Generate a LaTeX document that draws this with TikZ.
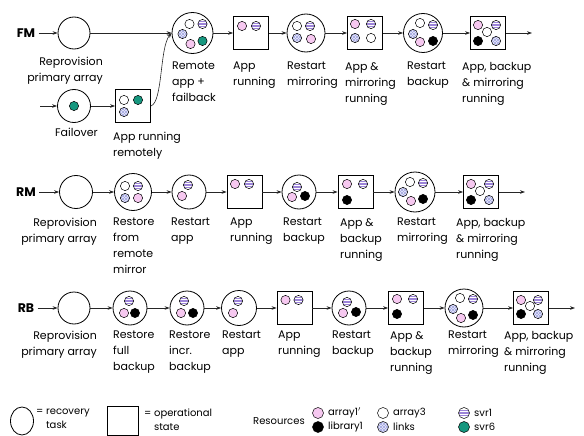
\documentclass[tikz,border=0pt]{standalone}
\usepackage{fontspec}
\setmainfont{Poppins}
\usetikzlibrary{arrows.meta,patterns,shapes.geometric}

\definecolor{arraypink}{HTML}{F6C8F0}
\definecolor{svrpurple}{HTML}{9C84D8}
\definecolor{linkblue}{HTML}{A2A6E2}
\definecolor{linkfill}{HTML}{ECECFA}
\definecolor{svrteal}{HTML}{16977F}

% one resource disc inside a task or state: style, node, offset
\newcommand{\res}[4]{\draw[#1] ([shift={(#3,#4)}]#2.center) circle (4.6);}

\begin{document}
\begin{tikzpicture}[x=1pt,y=-1pt,font=\fontsize{11}{16}\selectfont]

        % Stili
        \tikzset{
          task/.style={draw, circle, line width=0.8pt, inner sep=0pt, minimum size=#1},
          task/.default=34,
          opstate/.style={draw, rectangle, line width=0.8pt, inner sep=0pt,
            minimum width=35, minimum height=33},
          conn/.style={draw=black!85, line width=0.6pt, -{Stealth[length=5pt,width=3.6pt]}},
          txt/.style={inner sep=0pt, anchor=north west, align=left},
          rowname/.style={font=\fontsize{12.5}{14}\selectfont\bfseries},
          pinkdot/.style={draw, line width=0.5pt, fill=arraypink},
          blackdot/.style={draw, line width=0.5pt, fill=black},
          whitedot/.style={draw, line width=0.5pt, fill=white},
          tealdot/.style={draw, line width=0.5pt, fill=svrteal},
          linkdot/.style={draw, line width=0.5pt, preaction={fill=linkfill},
            preaction={pattern=north east lines, pattern color=linkblue},
            pattern=north west lines, pattern color=linkblue},
          svrdot/.style={draw, line width=0.5pt, fill=white, path picture={
            \foreach \k in {-2.6,0,2.6}
              \fill[svrpurple] ([yshift={(\k-0.7)*1pt}]path picture bounding box.west)
                rectangle ([yshift={(\k+0.7)*1pt}]path picture bounding box.east);}}
        }

        \useasboundingbox (0,0) rectangle (584,436);

        % Riga FM
        \node[rowname] (fm) at (26,33) {FM};
        \node[task=32] (fm1) at (74,33) {};
        \node[task=41] (fm2) at (192.5,33) {};
        \node[opstate] (fm3) at (251,33) {};
        \node[task=38] (fm4) at (306,33) {};
        \node[opstate] (fm5) at (365,33) {};
        \node[task=39] (fm6) at (423,33) {};
        \node[opstate] (fm7) at (488,33) {};
        \coordinate (fmend) at (532,33);

        % Failover
        \coordinate (fostart) at (40,106);
        \node[task=33] (fo1) at (74,106) {};
        \node[opstate] (fo2) at (133,106) {};

        % Riga RM
        \node[rowname] (rm) at (26,192) {RM};
        \node[task=33] (rm1) at (76,192) {};
        \node[task=37] (rm2) at (133,192) {};
        \node[task=34] (rm3) at (189,192) {};
        \node[opstate] (rm4) at (244.5,192) {};
        \node[task=34] (rm5) at (299,192) {};
        \node[opstate] (rm6) at (355.5,192) {};
        \node[task=40] (rm7) at (415,192) {};
        \node[opstate] (rm8) at (481,192) {};
        \coordinate (rmend) at (525,192);

        % Riga RB
        \node[rowname] (rb) at (26,308) {RB};
        \node[task=32] (rb1) at (74,308) {};
        \node[task=34] (rb2) at (130,308) {};
        \node[task=34] (rb3) at (187,308) {};
        \node[task=35] (rb4) at (239,308) {};
        \node[opstate] (rb5) at (294.5,308) {};
        \node[task=34] (rb6) at (349,308) {};
        \node[opstate] (rb7) at (406,308) {};
        \node[task=38] (rb8) at (464,308) {};
        \node[opstate] (rb9) at (531,308) {};
        \coordinate (rbend) at (575,308);

        % Frecce
        \foreach \a/\b in {fm/fm1, fm1/fm2, fm2/fm3, fm3/fm4, fm4/fm5, fm5/fm6, fm6/fm7, fm7/fmend,
                           fostart/fo1, fo1/fo2,
                           rm/rm1, rm1/rm2, rm2/rm3, rm3/rm4, rm4/rm5, rm5/rm6, rm6/rm7, rm7/rm8, rm8/rmend,
                           rb/rb1, rb1/rb2, rb2/rb3, rb3/rb4, rb4/rb5, rb5/rb6, rb6/rb7, rb7/rb8, rb8/rb9, rb9/rbend}
          \draw[conn] (\a) -- (\b);
        \draw[conn] (fo2.east) .. controls +(12,-4) and +(-12,14) .. (fm2.west);

        % Risorse FM
        \res{whitedot}{fm2}{-3}{-9} \res{svrdot}{fm2}{10}{-9} \res{linkdot}{fm2}{-10}{1}
        \res{pinkdot}{fm2}{-2}{11} \res{tealdot}{fm2}{10}{8}
        \res{pinkdot}{fm3}{-9}{-7} \res{svrdot}{fm3}{5}{-7}
        \res{whitedot}{fm4}{-9}{-7} \res{svrdot}{fm4}{4}{-7} \res{linkdot}{fm4}{-9}{5} \res{pinkdot}{fm4}{5}{6}
        \res{pinkdot}{fm5}{-10}{-9} \res{svrdot}{fm5}{6}{-9} \res{linkdot}{fm5}{-10}{5} \res{whitedot}{fm5}{6}{5}
        \res{whitedot}{fm6}{-3}{-10} \res{svrdot}{fm6}{10}{-8} \res{linkdot}{fm6}{-10}{1}
        \res{pinkdot}{fm6}{-3}{9} \res{blackdot}{fm6}{10}{8}
        \res{pinkdot}{fm7}{-10}{-8} \res{svrdot}{fm7}{8}{-8} \res{whitedot}{fm7}{-1}{-1}
        \res{blackdot}{fm7}{-10}{8} \res{linkdot}{fm7}{8}{8}
        \res{tealdot}{fo1}{0}{0}
        \res{whitedot}{fo2}{-9}{-6} \res{tealdot}{fo2}{5}{-6} \res{linkdot}{fo2}{-9}{6}

        % Risorse RM
        \res{whitedot}{rm2}{-8}{-6} \res{svrdot}{rm2}{5}{-6} \res{linkdot}{rm2}{-8}{6} \res{pinkdot}{rm2}{5}{6}
        \res{svrdot}{rm3}{-1}{-7} \res{pinkdot}{rm3}{-7}{4}
        \res{pinkdot}{rm4}{-9.5}{-8} \res{svrdot}{rm4}{4.5}{-8}
        \res{svrdot}{rm5}{-2}{-5} \res{pinkdot}{rm5}{-7}{5} \res{blackdot}{rm5}{6}{4}
        \res{pinkdot}{rm6}{-8.5}{-8} \res{svrdot}{rm6}{7.5}{-8} \res{blackdot}{rm6}{-8.5}{8}
        \res{whitedot}{rm7}{-5}{-10} \res{svrdot}{rm7}{8}{-9} \res{linkdot}{rm7}{-12}{0}
        \res{pinkdot}{rm7}{-4}{9} \res{blackdot}{rm7}{8}{7}
        \res{pinkdot}{rm8}{-10}{-8} \res{svrdot}{rm8}{8}{-8} \res{whitedot}{rm8}{-1}{-1}
        \res{blackdot}{rm8}{-10}{8} \res{linkdot}{rm8}{8}{8}

        % Risorse RB
        \res{svrdot}{rb2}{-1}{-7} \res{pinkdot}{rb2}{-6}{5} \res{blackdot}{rb2}{5}{5}
        \res{svrdot}{rb3}{-3}{-7} \res{pinkdot}{rb3}{-6}{5} \res{blackdot}{rb3}{6}{5}
        \res{svrdot}{rb4}{-1}{-7} \res{pinkdot}{rb4}{-6}{5}
        \res{pinkdot}{rb5}{-9}{-8} \res{svrdot}{rb5}{4}{-8}
        \res{svrdot}{rb6}{-2}{-6} \res{pinkdot}{rb6}{-6}{5} \res{blackdot}{rb6}{7}{4}
        \res{pinkdot}{rb7}{-9}{-9} \res{svrdot}{rb7}{7}{-9} \res{blackdot}{rb7}{-9}{6}
        \res{whitedot}{rb8}{-4}{-10} \res{svrdot}{rb8}{9}{-9} \res{linkdot}{rb8}{-11}{1}
        \res{pinkdot}{rb8}{-3}{10} \res{blackdot}{rb8}{9}{7}
        \res{pinkdot}{rb9}{-10}{-8} \res{svrdot}{rb9}{7}{-8} \res{whitedot}{rb9}{-1}{-2}
        \res{blackdot}{rb9}{-10}{6} \res{linkdot}{rb9}{7}{6}

        % Etichette FM
        \node[txt, anchor=north east, align=right] (fm1t) at (103,57) {Reprovision\\primary array};
        \node[txt] (fm2t) at (172,62) {Remote\\app +\\failback};
        \node[txt] (fm3t) at (233,62) {App\\running};
        \node[txt] (fm4t) at (287,62) {Restart\\mirroring};
        \node[txt] (fm5t) at (345,62) {App \&\\mirroring\\running};
        \node[txt] (fm6t) at (407,62) {Restart\\backup};
        \node[txt] (fm7t) at (462,62) {App, backup\\\& mirroring\\running};
        \node[txt] (fo1t) at (55,128) {Failover};
        \node[txt] (fo2t) at (113,132) {App running\\remotely};

        % Etichette RM
        \node[txt, anchor=north east, align=right] (rm1t) at (97,218) {Reprovision\\primary array};
        \node[txt] (rm2t) at (113,218) {Restore\\from\\remote\\mirror};
        \node[txt] (rm3t) at (171,218) {Restart\\app};
        \node[txt] (rm4t) at (230,218) {App\\running};
        \node[txt] (rm5t) at (283,218) {Restart\\backup};
        \node[txt] (rm6t) at (340,218) {App \&\\backup\\running};
        \node[txt] (rm7t) at (397,218) {Restart\\mirroring};
        \node[txt] (rm8t) at (456,218) {App, backup\\\& mirroring\\running};

        % Etichette RB
        \node[txt, anchor=north east, align=right] (rb1t) at (97,331) {Reprovision\\primary array};
        \node[txt] (rb2t) at (113,331) {Restore\\full\\backup};
        \node[txt] (rb3t) at (169,331) {Restore\\incr.\\backup};
        \node[txt] (rb4t) at (222,331) {Restart\\app};
        \node[txt] (rb5t) at (278,331) {App\\running};
        \node[txt] (rb6t) at (332,331) {Restart\\backup};
        \node[txt] (rb7t) at (390,331) {App \&\\backup\\running};
        \node[txt] (rb8t) at (448,331) {Restart\\mirroring};
        \node[txt] (rb9t) at (504,331) {App, backup\\\& mirroring\\running};

        % Legenda
        \begin{scope}[font=\fontsize{10}{14}\selectfont]
          \node[draw, ellipse, line width=0.8pt, inner sep=0pt, minimum width=23, minimum height=28] (keytask) at (22,421) {};
          \node[txt] (keytaskt) at (36,409) {= recovery\\\phantom{= }task};
          \node[opstate, minimum width=31, minimum height=29] (keystate) at (122.5,421) {};
          \node[txt] (keystatet) at (144,409) {= operational\\\phantom{= }state};
          \node[anchor=west, inner sep=0pt] (keyres) at (253,421) {Resources};
          \node[pinkdot, circle, minimum size=11, inner sep=0pt] (kpink) at (318,413) {};
          \node[blackdot, circle, minimum size=11, inner sep=0pt] (kblack) at (318,427) {};
          \node[whitedot, circle, minimum size=11, inner sep=0pt] (kwhite) at (383,413) {};
          \node[linkdot, circle, minimum size=11, inner sep=0pt] (klink) at (383,427) {};
          \node[svrdot, circle, minimum size=11, inner sep=0pt] (ksvr) at (464,413) {};
          \node[tealdot, circle, minimum size=11, inner sep=0pt] (kteal) at (464,427) {};
          \node[anchor=west, inner sep=0pt] (kpinkt) at (328,413) {array1$'$};
          \node[anchor=west, inner sep=0pt] (kblackt) at (328,427) {library1};
          \node[anchor=west, inner sep=0pt] (kwhitet) at (393,413) {array3};
          \node[anchor=west, inner sep=0pt] (klinkt) at (393,427) {links};
          \node[anchor=west, inner sep=0pt] (ksvrt) at (474,413) {svr1};
          \node[anchor=west, inner sep=0pt] (ktealt) at (474,427) {svr6};
        \end{scope}

    \end{tikzpicture}
\end{document}
